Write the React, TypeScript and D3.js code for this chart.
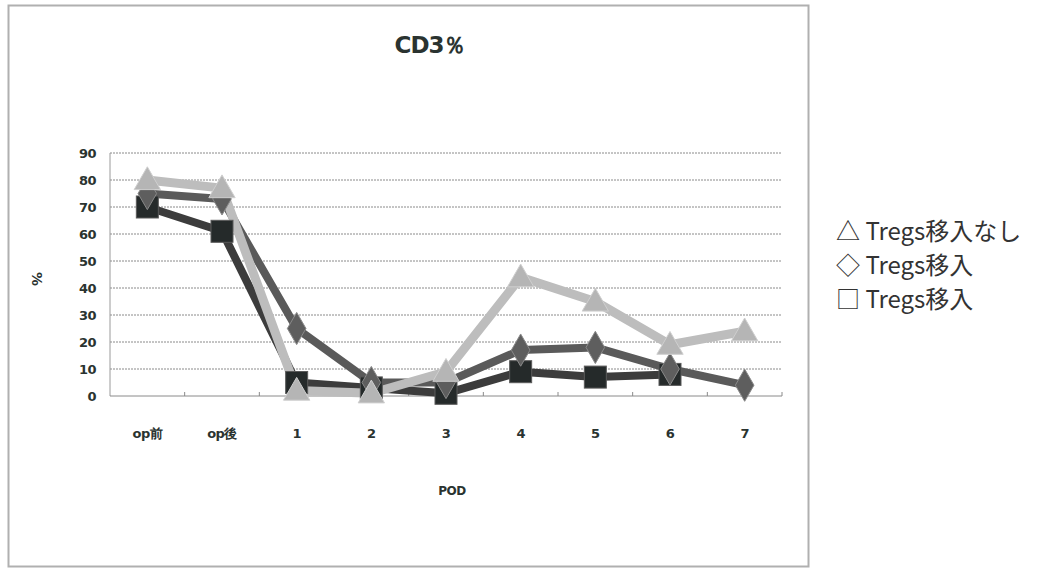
import * as d3 from "d3";
import React from "react";

const categories = ["op前", "op後", "1", "2", "3", "4", "5", "6", "7"];
const noTransfer = [80, 77, 2, 1, 9, 44, 35, 19, 24];
const transferA = [75, 73, 25, 5, 5, 17, 18, 10, 4];
const transferB: (number | null)[] = [70, 61, 5, 3, 1, 9, 7, 8, null];
const yTicks = [0, 10, 20, 30, 40, 50, 60, 70, 80, 90];
const legendLabels = ["△ Tregs移入なし", "◇ Tregs移入", "□ Tregs移入"];

const W = 1054;
const H = 569;
const margin = { left: 110, right: 272, top: 153, bottom: 173 };

const x = d3.scaleBand().domain(categories).range([margin.left, W - margin.right]);
const y = d3.scaleLinear().domain([0, 90]).range([H - margin.bottom, margin.top]);
const cx = (c: string) => x(c)! + x.bandwidth() / 2;

const lineGen = d3
  .line<number | null>()
  .defined(d => d !== null)
  .x((_, i) => cx(categories[i]))
  .y(d => y(d as number));

const tri = d3.symbol(d3.symbolTriangle, 300)()!;
const dia = d3.symbol(d3.symbolDiamond, 300)()!;

const font = "'DejaVu Sans', sans-serif";
const ink = "#2a3330";

const App: React.FC = () => {
  const x0 = margin.left;
  const x1 = W - margin.right;
  const y0 = y(0);
  return (
    <svg width={W} height={H} style={{ position: "absolute", left: 0, top: 0, background: "white" }}>
      <rect x={8.5} y={5.5} width={800} height={561} fill="white" stroke="#b0b0b0" strokeWidth={2} />
      <text x={430} y={53} textAnchor="middle" fontFamily={font} fontWeight="bold" fontSize={23} letterSpacing={-1} fill={ink}>
        CD3％
      </text>

      {yTicks.map(t => (
        <g key={t}>
          {t > 0 && <line x1={x0} x2={x1} y1={y(t)} y2={y(t)} stroke="#8a8a8a" strokeWidth={1} strokeDasharray="2,1" />}
          <text x={x0 - 14} y={y(t) + 5} textAnchor="end" fontFamily={font} fontWeight="bold" fontSize={13} letterSpacing={-0.5} fill={ink}>
            {t}
          </text>
        </g>
      ))}
      <line x1={x0} x2={x0} y1={y(90)} y2={y0} stroke="#9a9a9a" />
      <line x1={x0} x2={x1} y1={y0} y2={y0} stroke="#8a8a8a" />
      {categories.map((c, i) => (
        <line key={"tk" + i} x1={x(c)! + x.bandwidth()} x2={x(c)! + x.bandwidth()} y1={y0} y2={y0 - 4} stroke="#8a8a8a" />
      ))}
      {categories.map(c => (
        <text key={"xl" + c} x={cx(c)} y={y0 + 42} textAnchor="middle" fontFamily={font} fontWeight="bold" fontSize={13} letterSpacing={-0.5} fill={ink}>
          {c}
        </text>
      ))}
      <text x={452} y={495} textAnchor="middle" fontFamily={font} fontWeight="bold" fontSize={12} letterSpacing={-0.5} fill={ink}>
        POD
      </text>
      <text transform="translate(32,279) rotate(90)" textAnchor="middle" fontFamily={font} fontWeight="bold" fontSize={14} fill={ink}>
        %
      </text>

      <path d={lineGen(transferB)!} fill="none" stroke="#3c3c3c" strokeWidth={8} strokeLinejoin="round" />
      <path d={lineGen(transferA)!} fill="none" stroke="#5a5a5a" strokeWidth={8} strokeLinejoin="round" />
      <path d={lineGen(noTransfer)!} fill="none" stroke="#bdbdbd" strokeWidth={9} strokeLinejoin="round" />

      {transferB.map((v, i) =>
        v === null ? null : (
          <rect key={"b" + i} x={cx(categories[i]) - 11} y={y(v) - 11} width={22} height={22} fill="#252a2a" stroke="#5a5a5a" />
        )
      )}
      {transferA.map((v, i) => (
        <path key={"a" + i} d={dia} transform={`translate(${cx(categories[i])},${y(v)})`} fill="#5e5e5e" stroke="#8a8a8a" />
      ))}
      {noTransfer.map((v, i) => (
        <path key={"n" + i} d={tri} transform={`translate(${cx(categories[i])},${y(v) + 2})`} fill="#b5b5b5" stroke="#cfcfcf" />
      ))}

      {legendLabels.map((l, i) => (
        <text key={l + i} x={836} y={240 + i * 34} fontFamily="'Noto Sans CJK JP', 'Noto Sans', sans-serif" fontSize={24} fill="#333">
          {l}
        </text>
      ))}
    </svg>
  );
};

export default App;
